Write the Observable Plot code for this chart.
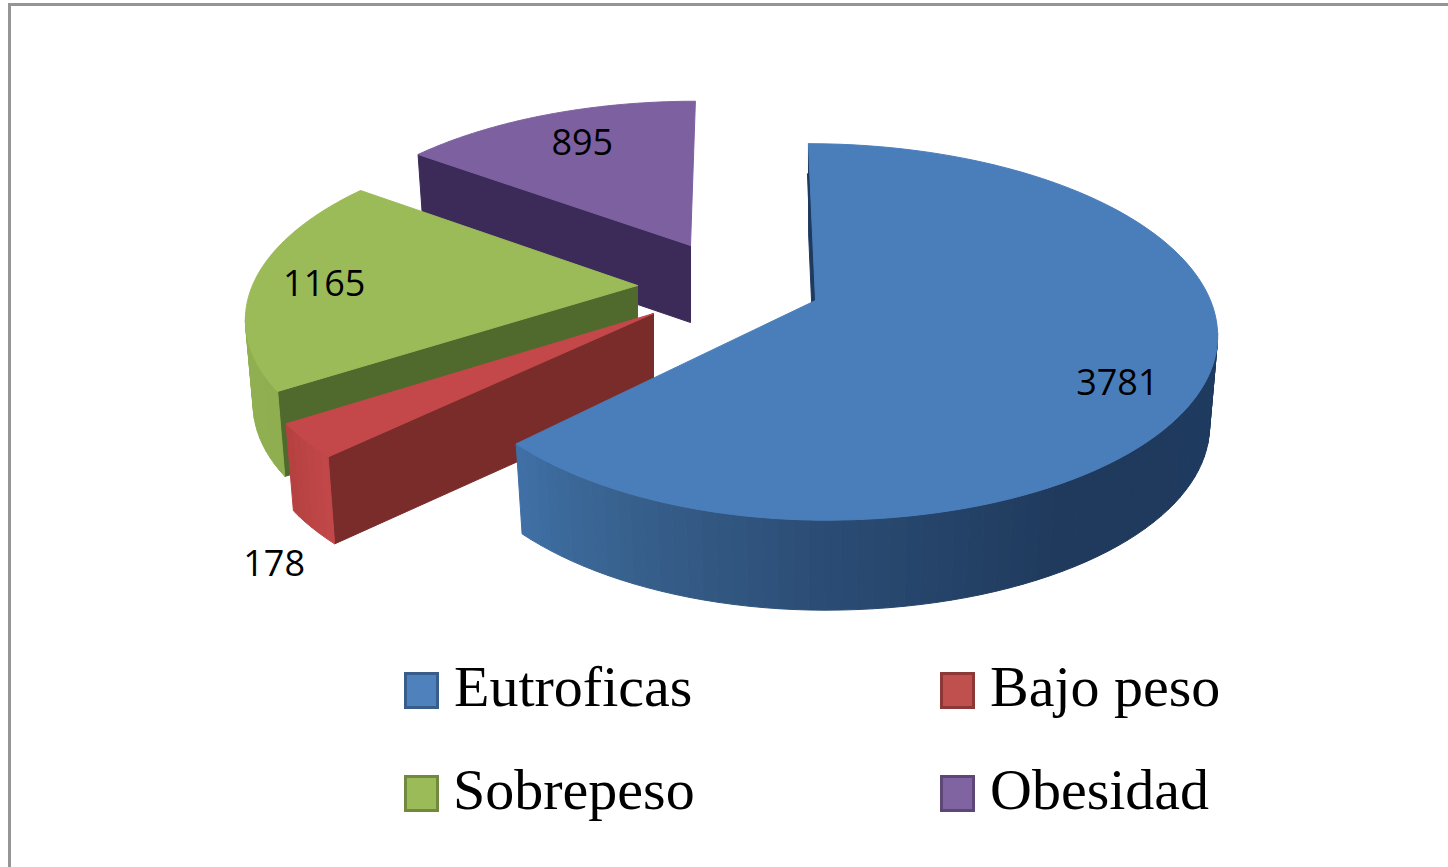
<!DOCTYPE html>
<html><head><meta charset="utf-8">
<script src="https://cdn.jsdelivr.net/npm/d3@7"></script>
<script src="https://cdn.jsdelivr.net/npm/@observablehq/plot@0.6"></script>
<style>
html,body{margin:0;padding:0;background:#fff;overflow:hidden}
#frame{position:relative;width:1448px;height:867px;overflow:hidden;background:#fff}
#frame:before{content:"";position:absolute;left:8px;top:3px;right:0;bottom:0;border-left:3px solid #959595;border-top:3px solid #959595;pointer-events:none}
#chart{position:absolute;left:0;top:0}
#chart svg{display:block;background:transparent}
#legend{position:absolute;left:0;top:640px;width:1448px;height:227px;font-family:"Liberation Serif",serif;font-size:58px;color:#000}
.item{position:absolute;display:block;line-height:60px;white-space:nowrap}
.sw{position:absolute;box-sizing:border-box;width:35px;height:37px;border:3px solid}
.lb{position:absolute;top:0}
</style></head>
<body><div id="frame"><div id="chart"></div><div id="legend"></div></div>
<script>
const categories = ["Eutroficas", "Bajo peso", "Sobrepeso", "Obesidad"];
const values = [3781, 178, 1165, 895];
const topColors = ["#4a7ebb", "#c4484a", "#9bbb59", "#7d60a0"];
const radialWall = ["#1f3a5f", "#7a2c2b", "#4f6a2c", "#3c2a58"];
const wallDomain = [
  [0, 0.44, 0.66, 0.79, 0.91, 1],
  [0, 1],
  [0, 1],
  [0, 1]
];
const wallColors = [
  ["#1e3a5f", "#1e3a5f", "#1f3a5c", "#2a4b73", "#37608c", "#3f70a6"],
  ["#c2474a", "#b5423f"],
  ["#8fae50", "#94b454"],
  ["#3c2a58", "#3c2a58"]
];
const legendBorder = ["#385d8a", "#8c3836", "#71893f", "#5c4776"];
const legendFill = ["#4f81bd", "#c0504d", "#9bbb59", "#8064a2"];

// Exploded slice apex on screen, extrusion depth, perspective adjustments, label placement
const apexX = [815, 653, 637, 690];
const apexY = [300, 313, 285, 245];
const depth = [90, 87, 85, 77];
const scaleRight = [0.99, 1, 1, 1];
const scaleLeft = [0.94, 1, 0.965, 0.944];
const scaleY = [1, 1, 0.96, 0.92];
const shear = [0.045, 0, -0.05, -0.034];
const labelT = [0.8, 1, 0.8, 0.7];
const labelDx = [-12, -31, -7, -8];
const labelDy = [22, 124, 3, -10];

// perspective disc
const rA = 399, rB = 183, k = 0.167, bottomScale = 0.98;
const total = d3.sum(values);
let cum = 0;
const slices = values.map((v, i) => {
  const a0 = cum / total * 2 * Math.PI; cum += v;
  return {i, a0, a1: cum / total * 2 * Math.PI};
});
const rim = (i, a, t = 1) => {
  const u = Math.sin(a), w = 1 + k * Math.cos(a);
  const y = -t * rB * Math.cos(a) / w * scaleY[i];
  const x = t * rA * u / w * (u < 0 ? scaleLeft[i] : scaleRight[i]) + shear[i] * y;
  return [x, y];
};
const topPt = (s, a, t = 1) => { const [x, y] = rim(s.i, a, t); return {x: apexX[s.i] + x, y: apexY[s.i] + y}; };
const botPt = (s, a, t = 1) => { const [x, y] = rim(s.i, a, t);
  return {x: apexX[s.i] + x * bottomScale, y: apexY[s.i] + y + depth[s.i]}; };

const rows = [];
const poly = (id, pts, fill) => [...pts, pts[0]].forEach(p => rows.push({id, x: p.x, y: p.y, fill}));
const angles = (a0, a1, n) => d3.range(n + 1).map(j => a0 + (a1 - a0) * j / n);

// painter's order: purple, green, red, blue
for (const s of [3, 2, 1, 0].map(i => slices[i])) {
  const apex = {x: apexX[s.i], y: apexY[s.i]};
  poly("rad" + s.i, [apex, topPt(s, s.a0), botPt(s, s.a0),
    {x: apexX[s.i], y: apexY[s.i] + depth[s.i]}], radialWall[s.i]);
  const lo = s.a0, hi = s.a1;
  const color = d3.scaleLinear().domain(wallDomain[s.i]).range(wallColors[s.i]).interpolate(d3.interpolateRgb);
  const n = Math.max(6, Math.round((hi - lo) / (Math.PI / 90)));
  const aa = angles(lo, hi, n);
  for (let j = 0; j < n; j++) {
    const a = aa[j], b = aa[j + 1], mid = (a + b) / 2;
    if (Math.cos(mid) > -k) continue;
    poly(`w${s.i}-${j}`, [topPt(s, a), topPt(s, b), botPt(s, b), botPt(s, a)],
      color((mid - lo) / (hi - lo)));
  }
  if (s.i === 0) { // thin dark sliver of the hidden face along the first edge
    const r0 = topPt(s, 0);
    poly("sliver", [{x: apex.x - 3, y: apex.y}, {x: r0.x - 1, y: r0.y + 30}, {x: r0.x + 1, y: r0.y + 30}, apex], radialWall[0]);
  }
  poly("top" + s.i, [apex, ...angles(s.a0, s.a1, 120).map(a => topPt(s, a))], topColors[s.i]);
}

const labels = slices.map(s => {
  const p = topPt(s, (s.a0 + s.a1) / 2, labelT[s.i]);
  return {x: p.x + labelDx[s.i], y: p.y + labelDy[s.i], text: String(values[s.i])};
});

const plot = Plot.plot({
  width: 1448, height: 640,
  margin: 0,
  x: {domain: [0, 1448], range: [0, 1448], axis: null},
  y: {domain: [0, 640], range: [0, 640], axis: null},
  marks: [
    Plot.line(rows, {
      x: "x", y: "y", z: "id",
      fill: {value: "fill", scale: null},
      stroke: {value: "fill", scale: null},
      strokeWidth: 1
    }),
    Plot.text(labels, {
      x: "x", y: "y", text: "text",
      fontSize: 36, fontFamily: "Open Sans", fill: "#000"
    })
  ]
});
document.getElementById("chart").appendChild(plot);

// legend
const lg = document.getElementById("legend");
const pos = [[404, 32], [940, 32], [404, 135], [940, 135]];
categories.forEach((c, i) => {
  const it = document.createElement("div");
  it.className = "item";
  it.style.left = pos[i][0] + "px";
  it.style.top = pos[i][1] + "px";
  const sw = document.createElement("span");
  sw.className = "sw";
  sw.style.cssText = `left:0;top:0;background:${legendFill[i]};border-color:${legendBorder[i]}`;
  const lb = document.createElement("span");
  lb.className = "lb";
  lb.textContent = c;
  lb.style.left = (i === 2 ? 49 : 50) + "px";
  lb.style.top = "-15px";
  it.appendChild(sw); it.appendChild(lb);
  lg.appendChild(it);
});
</script></body></html>
